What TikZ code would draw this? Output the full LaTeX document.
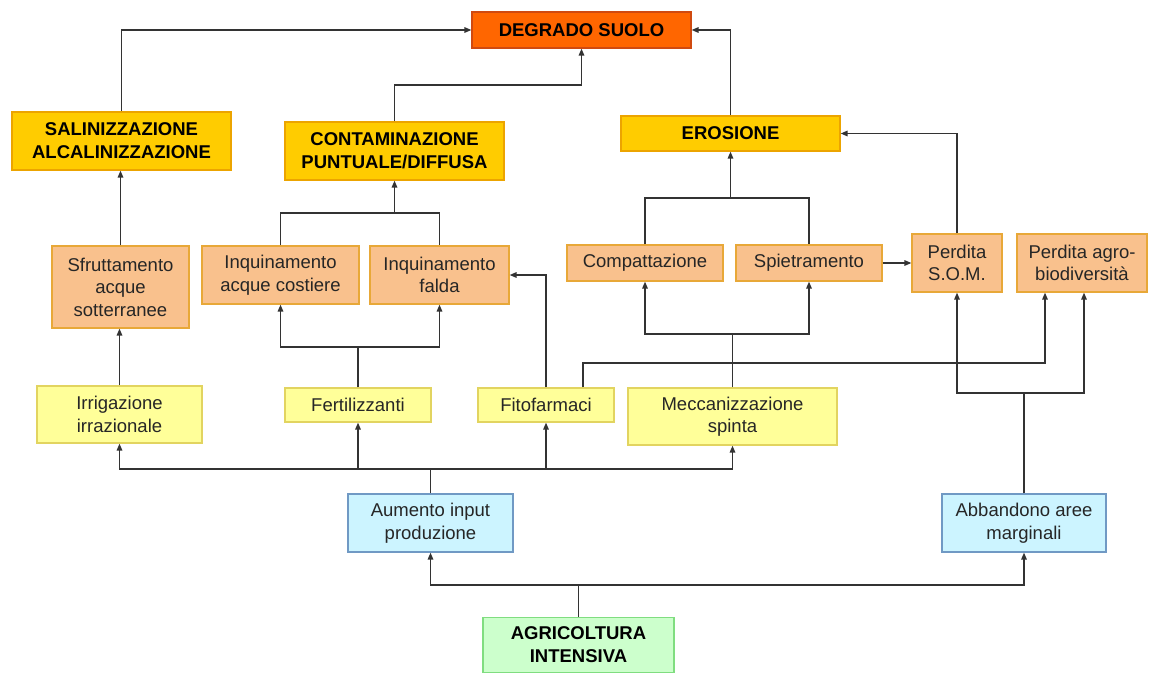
\documentclass[tikz,border=0pt]{standalone}
\usepackage{fontspec}
\setmainfont{Liberation Sans}
\usetikzlibrary{arrows.meta}
\definecolor{degF}{HTML}{FF6600}
\definecolor{degD}{HTML}{D04A10}
\definecolor{goldF}{HTML}{FFCC00}
\definecolor{goldD}{HTML}{ECA400}
\definecolor{peachF}{HTML}{F9C18D}
\definecolor{peachD}{HTML}{E8A838}
\definecolor{ylwF}{HTML}{FFFF99}
\definecolor{ylwD}{HTML}{E2D460}
\definecolor{blueF}{HTML}{CCF4FF}
\definecolor{blueD}{HTML}{7099C4}
\definecolor{grnF}{HTML}{CCFFCC}
\definecolor{grnD}{HTML}{80DD80}
\definecolor{lineC}{HTML}{333333}
\tikzset{
  box/.style={rectangle, inner sep=0pt, align=center, line width=1.2pt, text=black},
  head/.style={box, font=\fontsize{18.5}{23}\selectfont\bfseries},
  body/.style={box, font=\fontsize{18.5}{22.5}\selectfont, text={black!85}},
  degbox/.style={head, fill=degF, draw=degD},
  goldbox/.style={head, fill=goldF, draw=goldD},
  peachbox/.style={body, fill=peachF, draw=peachD},
  ylwbox/.style={body, fill=ylwF, draw=ylwD},
  bluebox/.style={body, fill=blueF, draw=blueD},
  grnbox/.style={head, fill=grnF, draw=grnD},
  conn/.style={draw=lineC, line width=1.5pt},
  arr/.style={conn, -{Triangle[length=7pt,width=5.5pt]}}
}
\begin{document}
\begin{tikzpicture}[x=1pt,y=-1pt]
\useasboundingbox[fill=white] (0,0) rectangle (1149,674);
% nodes
\node[degbox, minimum width=219pt, minimum height=36pt] (deg) at (581.5,30) {DEGRADO SUOLO};
\node[goldbox, minimum width=219pt, minimum height=58pt] (sal) at (121.5,141) {SALINIZZAZIONE\\ALCALINIZZAZIONE};
\node[goldbox, minimum width=219pt, minimum height=58pt] (con) at (394.5,151) {CONTAMINAZIONE\\PUNTUALE/DIFFUSA};
\node[goldbox, minimum width=219pt, minimum height=35pt] (ero) at (730.5,133.5) {EROSIONE};
\node[peachbox, minimum width=137pt, minimum height=82pt] (sfr) at (120.5,287) {Sfruttamento\\acque\\sotterranee};
\node[peachbox, minimum width=157pt, minimum height=58pt] (iac) at (280.5,275) {Inquinamento\\acque costiere};
\node[peachbox, minimum width=139pt, minimum height=58pt] (ifa) at (439.5,275) {Inquinamento\\falda};
\node[peachbox, minimum width=156pt, minimum height=36pt] (com) at (645,263) {Compattazione};
\node[peachbox, minimum width=146pt, minimum height=36pt] (spi) at (809,263) {Spietramento};
\node[peachbox, minimum width=90pt, minimum height=58pt] (som) at (957,263) {Perdita\\S.O.M.};
\node[peachbox, minimum width=130pt, minimum height=58pt] (agr) at (1082,263) {Perdita agro-\\biodiversità};
\node[ylwbox, minimum width=165pt, minimum height=57pt] (irr) at (119.5,414.5) {Irrigazione\\irrazionale};
\node[ylwbox, minimum width=146pt, minimum height=34pt] (fer) at (358,405) {Fertilizzanti};
\node[ylwbox, minimum width=136pt, minimum height=34pt] (fit) at (546,405) {Fitofarmaci};
\node[ylwbox, minimum width=209pt, minimum height=57pt] (mec) at (732.5,416.5) {Meccanizzazione\\spinta};
\node[bluebox, minimum width=165pt, minimum height=58pt] (aum) at (430.5,523) {Aumento input\\produzione};
\node[bluebox, minimum width=164pt, minimum height=58pt] (abb) at (1024,523) {Abbandono aree\\marginali};
\node[grnbox, minimum width=191pt, minimum height=55pt] (agc) at (578.5,645) {AGRICOLTURA\\INTENSIVA};
% connectors to DEGRADO
\draw[arr] (sal.north) |- (deg.west);
\draw[arr] (con.north) -- (con.north |- 0,85) -| (deg.south);
\draw[arr] (ero.north) |- (deg.east);
% to EROSIONE
\draw[conn] (com.north) |- (spi.north |- 0,198) -- (spi.north);
\draw[arr] (ero.south |- 0,198) -- (ero.south);
\draw[arr] (som.north) |- (ero.east);
% to CONTAMINAZIONE
\draw[conn] (iac.north) |- (ifa.north |- 0,213) -- (ifa.north);
\draw[arr] (con.south |- 0,213) -- (con.south);
% to SALINIZZAZIONE
\draw[arr] (sfr.north) -- (sfr.north |- sal.south);
\draw[arr] (irr.north) -- (irr.north |- sfr.south);
% Fertilizzanti
\draw[conn] (fer.north) -- (fer.north |- 0,347);
\draw[arr] (fer.north |- 0,347) -| (iac.south);
\draw[arr] (fer.north |- 0,347) -| (ifa.south);
% Fitofarmaci
\draw[arr] (fit.north) |- (ifa.east);
\draw[arr] ([xshift=37pt]fit.north) |- ([xshift=-37pt]agr.south |- 0,363) -- ([xshift=-37pt]agr.south);
% Meccanizzazione
\draw[conn] (mec.north) -- (mec.north |- 0,334);
\draw[arr] (mec.north |- 0,334) -| (com.south);
\draw[arr] (mec.north |- 0,334) -| (spi.south);
% Spietramento -> SOM
\draw[arr] (spi.east) -- (som.west);
% Abbandono
\draw[conn] (abb.north) -- (abb.north |- 0,393);
\draw[arr] (abb.north |- 0,393) -| (som.south);
\draw[arr] (abb.north |- 0,393) -| ([xshift=2pt]agr.south);
% Aumento input
\draw[conn] (aum.north) -- (aum.north |- 0,469);
\draw[arr] (aum.north |- 0,469) -| (irr.south);
\draw[arr] (aum.north |- 0,469) -| (fer.south);
\draw[arr] (aum.north |- 0,469) -| (fit.south);
\draw[arr] (aum.north |- 0,469) -| (mec.south);
% Agricoltura
\draw[conn] (agc.north) -- (agc.north |- 0,585);
\draw[arr] (agc.north |- 0,585) -| (aum.south);
\draw[arr] (agc.north |- 0,585) -| (abb.south);
\end{tikzpicture}
\end{document}
